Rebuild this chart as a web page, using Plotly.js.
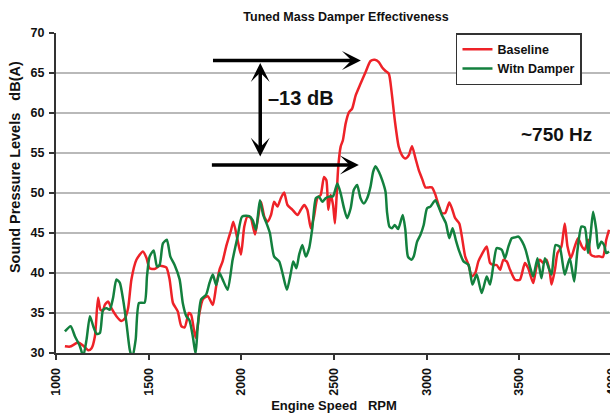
<!DOCTYPE html>
<html>
<head>
<meta charset="utf-8">
<script src="https://cdn.plot.ly/plotly-3.0.1.min.js"></script>
<style>
html, body { margin: 0; padding: 0; overflow: hidden; background: #fff; }
#chart { width: 630px; height: 415px; }
</style>
</head>
<body>
<div id="chart"></div>
<script>
// Engine speed (RPM) and sound pressure level (dB(A))
var baselineRpm = [1048,1075,1120,1147,1174,1192,1210,1227,1240,1254,
  1263,1281,1299,1326,1353,1371,1389,1407,1434,1469,
  1488,1505,1532,1559,1595,1613,1631,1657,1676,1694,
  1717,1729,1753,1774,1792,1819,1846,1864,1882,1899,
  1918,1945,1957,1980,1998,2016,2034,2052,2061,2074,
  2088,2106,2124,2141,2160,2177,2195,2213,2231,2249,
  2276,2303,2321,2339,2356,2375,2392,2410,2428,2446,
  2459,2469,2482,2495,2505,2514,2523,2536,2548,2563,
  2581,2598,2617,2643,2670,2697,2720,2742,2760,2778,
  2796,2810,2828,2849,2867,2885,2903,2921,2939,2957,
  2975,2993,3011,3028,3047,3064,3082,3100,3122,3136,
  3154,3176,3190,3208,3226,3243,3262,3279,3297,3324,
  3342,3360,3378,3396,3414,3432,3450,3477,3503,3530,
  3548,3575,3593,3611,3629,3647,3665,3674,3692,3706,
  3727,3745,3760,3778,3799,3817,3838,3853,3871,3885,
  3907,3930,3951,3969,3984];
var baselineDb = [30.85,30.8,31.3,30.9,30.35,30.6,32.1,36.9,35.4,35.3,
  36.0,36.45,35.6,34.6,34.0,34.3,35.6,39.2,41.65,42.7,
  41.9,40.6,40.5,40.9,40.7,39.2,36.25,35.2,33.35,33.2,
  35.0,34.8,31.9,35.0,36.7,37.1,36.0,38.3,40.4,41.45,
  43.3,45.4,46.4,44.1,42.3,45.8,47.1,46.85,46.0,44.8,
  46.6,48.9,47.05,46.4,47.25,48.9,48.3,49.35,50.05,48.5,
  47.9,47.25,47.9,48.5,47.9,45.6,47.05,49.35,49.75,52.0,
  51.6,47.9,49.75,48.5,46.2,49.55,53.3,55.8,56.6,58.7,
  60.1,60.55,62.2,63.65,65.1,66.5,66.65,66.35,65.7,65.25,
  64.9,62.8,59.1,55.8,54.7,54.3,54.7,55.85,54.4,52.9,
  51.8,50.7,50.7,50.7,49.8,48.5,47.5,47.5,48.8,48.1,
  46.85,46.2,44.55,42.05,41.0,39.55,40.0,41.45,42.3,43.3,
  41.25,41.0,41.0,40.4,41.65,41.45,40.4,39.15,39.15,41.25,
  40.6,38.75,40.8,41.65,41.25,41.65,40.0,38.55,40.4,42.5,
  43.3,46.2,43.3,41.85,43.3,44.35,43.3,42.9,44.15,42.3,
  42.05,42.1,42.0,44.15,45.4];

var damperRpm = [1048,1079,1102,1129,1147,1165,1183,1201,1219,1237,
  1254,1273,1290,1308,1326,1344,1362,1380,1398,1412,
  1430,1448,1478,1491,1505,1527,1545,1559,1577,1598,
  1617,1640,1667,1684,1703,1720,1738,1753,1765,1783,
  1810,1828,1846,1864,1882,1899,1926,1953,1980,2004,
  2043,2061,2079,2100,2118,2136,2154,2177,2204,2222,
  2246,2267,2280,2297,2312,2329,2348,2366,2383,2402,
  2419,2437,2455,2473,2495,2518,2536,2554,2571,2590,
  2607,2625,2643,2661,2679,2697,2711,2724,2742,2760,
  2778,2786,2799,2813,2828,2846,2871,2885,2899,2918,
  2930,2948,2966,2984,3002,3020,3047,3064,3082,3104,
  3122,3140,3157,3176,3199,3226,3247,3270,3297,3324,
  3342,3360,3378,3405,3423,3441,3459,3477,3495,3516,
  3534,3557,3575,3598,3619,3638,3659,3674,3695,3717,
  3745,3772,3796,3813,3835,3853,3871,3885,3898,3915,
  3925,3942,3957,3969,3984];
var damperDb = [32.7,33.35,32.1,30.85,29.6,31.7,34.6,33.35,32.4,32.5,
  35.4,35.6,35.4,36.9,39.2,38.8,36.7,33.75,30.4,29.4,
  31.7,36.25,36.3,39.6,42.05,42.8,40.8,41.0,43.7,44.15,
  42.05,41.0,39.2,36.25,34.6,34.1,32.1,29.9,33.35,36.7,
  37.3,38.75,39.8,38.5,40.0,39.2,37.9,41.65,44.55,47.05,
  47.1,46.6,45.4,49.1,47.25,46.2,45.0,42.05,41.45,40.0,
  37.9,40.0,41.45,40.6,42.3,43.5,42.05,43.1,45.6,49.35,
  49.55,48.9,49.35,49.55,49.6,51.2,49.95,48.1,46.85,48.1,
  50.4,51.0,49.35,48.7,49.35,50.8,52.65,53.35,52.65,51.6,
  50.15,47.65,45.8,45.6,46.0,45.5,47.25,45.4,42.05,41.65,
  42.05,43.9,44.75,46.0,48.1,48.3,49.1,48.3,47.25,46.2,
  44.35,45.6,44.15,42.7,41.45,41.0,38.55,39.8,37.5,39.55,
  38.55,41.0,43.1,42.9,41.85,43.3,44.35,44.45,44.55,43.9,
  42.9,40.8,39.55,41.85,39.35,41.85,40.6,39.8,43.5,43.3,
  39.8,41.85,38.95,42.7,45.8,45.7,42.5,44.95,47.65,45.4,
  43.1,43.9,43.5,42.5,42.7];

var seriesNames = ['Baseline', 'Witn Damper'];
var xTickVals = [1000,1500,2000,2500,3000,3500,4000];
var yTickVals = [30,35,40,45,50,55,60,65,70];

var FONT = 'Liberation Sans, Arial, Helvetica, sans-serif';
var lineStyle = { width: 2.5, shape: 'spline', smoothing: 0.6 };

var traces = [
  { x: baselineRpm, y: baselineDb, name: seriesNames[0], type: 'scatter', mode: 'lines',
    line: Object.assign({ color: '#ee2228' }, lineStyle) },
  { x: damperRpm, y: damperDb, name: seriesNames[1], type: 'scatter', mode: 'lines',
    line: Object.assign({ color: '#13803e' }, lineStyle) }
];

var arrowBase = { xref: 'x', yref: 'y', axref: 'x', ayref: 'y', text: '', showarrow: true,
  arrowhead: 3, arrowsize: 0.9, arrowwidth: 3.5, arrowcolor: '#000', standoff: 0, startstandoff: 0 };

var layout = {
  width: 630, height: 415,
  margin: { l: 56, r: 18, t: 33, b: 62 },
  paper_bgcolor: '#fff', plot_bgcolor: '#fff',
  showlegend: true,
  title: { text: 'Tuned Mass Damper Effectiveness', x: 0.5216, xref: 'paper', xanchor: 'center',
    y: 0.961, yref: 'container', yanchor: 'middle',
    font: { family: FONT, size: 12.5, weight: 'bold', color: '#111' } },
  xaxis: {
    range: [1000, 4000], tickvals: xTickVals, ticktext: xTickVals.map(String),
    tickangle: -90, ticks: 'outside', ticklen: 5, tickwidth: 2, tickcolor: '#333',
    showline: true, linecolor: '#333', linewidth: 2, showgrid: false, zeroline: false,
    ticklabelstandoff: 3, ticklabeloverflow: 'allow',
    tickfont: { family: FONT, size: 12.5, weight: 'bold', color: '#111' },
    title: { text: 'Engine Speed\u00a0\u00a0\u00a0RPM', standoff: 6,
      font: { family: FONT, size: 13, weight: 'bold', color: '#111' } },
    fixedrange: true
  },
  yaxis: {
    range: [30, 70], tickvals: yTickVals, ticktext: yTickVals.map(String),
    ticks: 'outside', ticklen: 5, tickwidth: 2, tickcolor: '#333',
    showline: true, linecolor: '#333', linewidth: 2,
    showgrid: true, gridcolor: '#b9b9b9', gridwidth: 1.5, zeroline: false,
    ticklabelstandoff: 2,
    tickfont: { family: FONT, size: 12.5, weight: 'bold', color: '#111' },
    fixedrange: true
  },
  legend: {
    x: 0.7194, y: 1, xanchor: 'left', yanchor: 'top', xref: 'paper', yref: 'paper',
    bgcolor: '#fff', bordercolor: '#333', borderwidth: 1.5,
    font: { family: FONT, size: 12.5, weight: 'bold', color: '#111' },
    tracegroupgap: 0
  },
  annotations: [
    Object.assign({}, arrowBase, { x: 2645, y: 66.57, ax: 1839, ay: 66.57 }),
    Object.assign({}, arrowBase, { x: 2634, y: 53.5, ax: 1833, ay: 53.5 }),
    Object.assign({}, arrowBase, { x: 2102, y: 66.24, ax: 2102, ay: 54.36,
      arrowside: 'end+start', startarrowhead: 3, startarrowsize: 0.9 }),
    { xref: 'x', yref: 'y', x: 2134, y: 61.84, xanchor: 'left', yanchor: 'middle', showarrow: false,
      text: '\u201313 dB', font: { family: FONT, size: 20, weight: 'bold', color: '#111' } },
    { xref: 'x', yref: 'y', x: 3903, y: 57.35, xanchor: 'right', yanchor: 'middle', showarrow: false,
      text: '~750 Hz', font: { family: FONT, size: 19, weight: 'bold', color: '#111' } },
    { xref: 'paper', yref: 'paper', x: -0.0737, y: 0.581, xanchor: 'center', yanchor: 'middle',
      showarrow: false, textangle: -90,
      text: 'Sound Pressure Levels\u00a0\u00a0\u00a0dB(A)',
      font: { family: FONT, size: 14.5, weight: 'bold', color: '#111' } }
  ]
};

Plotly.newPlot('chart', traces, layout, { displayModeBar: false, staticPlot: true });
</script>
</body>
</html>
